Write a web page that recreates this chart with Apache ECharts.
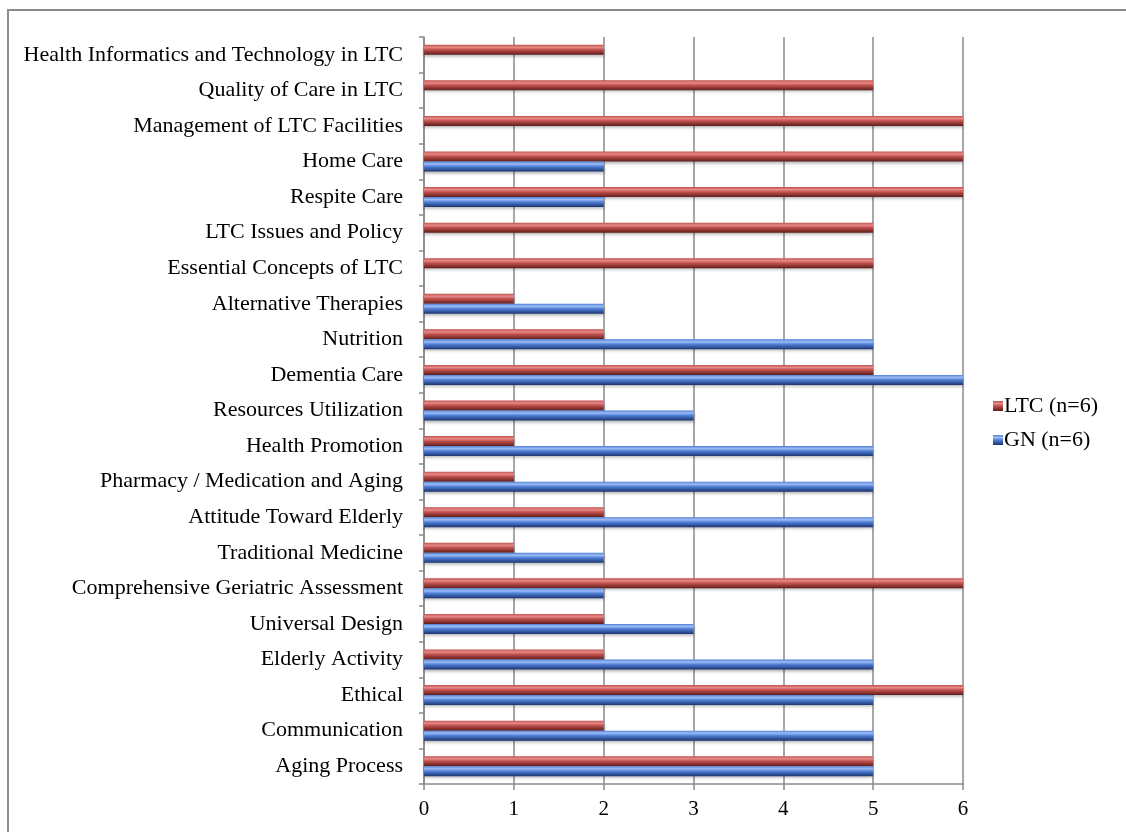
<!DOCTYPE html>
<html>
<head>
<meta charset="utf-8">
<script src="https://cdn.jsdelivr.net/npm/echarts@6/dist/echarts.min.js"></script>
<style>
  html, body { margin: 0; padding: 0; background: #fff; }
  #chart { width: 1126px; height: 832px; }
</style>
</head>
<body>
<div id="chart"></div>
<script>
// categories listed from top to bottom as in the picture
const topics = [
  'Health Informatics and Technology in LTC',
  'Quality of Care in LTC',
  'Management of LTC Facilities',
  'Home Care',
  'Respite Care',
  'LTC Issues and Policy',
  'Essential Concepts of LTC',
  'Alternative Therapies',
  'Nutrition',
  'Dementia Care',
  'Resources Utilization',
  'Health Promotion',
  'Pharmacy / Medication and Aging',
  'Attitude Toward Elderly',
  'Traditional Medicine',
  'Comprehensive Geriatric Assessment',
  'Universal Design',
  'Elderly Activity',
  'Ethical',
  'Communication',
  'Aging Process'
]
const ltc = [2, 5, 6, 6, 6, 5, 5, 1, 2, 5, 2, 1, 1, 2, 1, 6, 2, 2, 6, 2, 5]
const gn  = [0, 0, 0, 2, 2, 0, 0, 2, 5, 6, 3, 5, 5, 5, 2, 2, 3, 5, 5, 5, 5]
const xTicks = [0, 1, 2, 3, 4, 5, 6]

const font = '"Liberation Serif", "Times New Roman", serif'

function tube(light, mid, dark){
    return new echarts.graphic.LinearGradient(0, 0, 0, 1, [
        { offset: 0, color: mid },
        { offset: 0.25, color: light },
        { offset: 0.5, color: mid },
        { offset: 1, color: dark }
    ])
}
const redFill = tube('#e68a88', '#c0504d', '#5e1d1b')
const blueFill = tube('#9dbcf5', '#4f7fd6', '#1c3470')

const chart = echarts.init(document.getElementById('chart'))
chart.setOption({
    animation: false,
    textStyle: { fontFamily: font },
    graphic: [{
        type: 'rect',
        shape: { x: 8, y: 10, width: 1300, height: 1000 },
        style: { fill: 'none', stroke: '#8c8c8c', lineWidth: 2 },
        silent: true
    }],
    legend: {
        orient: 'vertical',
        left: 988,
        top: 390,
        data: ['LTC (n=6)', 'GN (n=6)'],
        itemWidth: 10,
        itemHeight: 10,
        itemGap: 12,
        icon: 'rect',
        textStyle: { fontFamily: font, fontSize: 22, color: '#000', padding: [0, 0, 0, -4] }
    },
    grid: { left: 424, right: 163, top: 37, bottom: 48 },
    xAxis: {
        type: 'value',
        min: 0, max: 6, interval: 1,
        axisLine: { show: true, lineStyle: { color: '#8a8a8a', width: 1.5 } },
        axisTick: { show: true, length: 6, lineStyle: { color: '#8a8a8a', width: 1.5 } },
        splitLine: { show: true, lineStyle: { color: '#8a8a8a', width: 1.5 } },
        axisLabel: {
            color: '#000', fontSize: 21, fontFamily: font, margin: 15,
            formatter: v => xTicks.includes(v) ? String(v) : ''
        }
    },
    yAxis: {
        type: 'category',
        inverse: true,
        data: topics,
        axisLine: { show: true, lineStyle: { color: '#8a8a8a', width: 1.5 } },
        axisTick: { show: true, length: 5, lineStyle: { color: '#8a8a8a', width: 1.5 } },
        axisLabel: { color: '#000', fontSize: 22, fontFamily: font, margin: 21 }
    },
    series: [
        {
            type: 'bar',
            name: 'LTC (n=6)',
            data: ltc,
            barWidth: 10,
            barGap: '0%',
            itemStyle: { color: redFill, shadowColor: 'rgba(0,0,0,0.3)', shadowBlur: 3, shadowOffsetY: 2 }
        },
        {
            type: 'bar',
            name: 'GN (n=6)',
            data: gn,
            barWidth: 10,
            barGap: '0%',
            itemStyle: { color: blueFill, shadowColor: 'rgba(0,0,0,0.3)', shadowBlur: 3, shadowOffsetY: 2 }
        }
    ]
})
</script>
</body>
</html>
